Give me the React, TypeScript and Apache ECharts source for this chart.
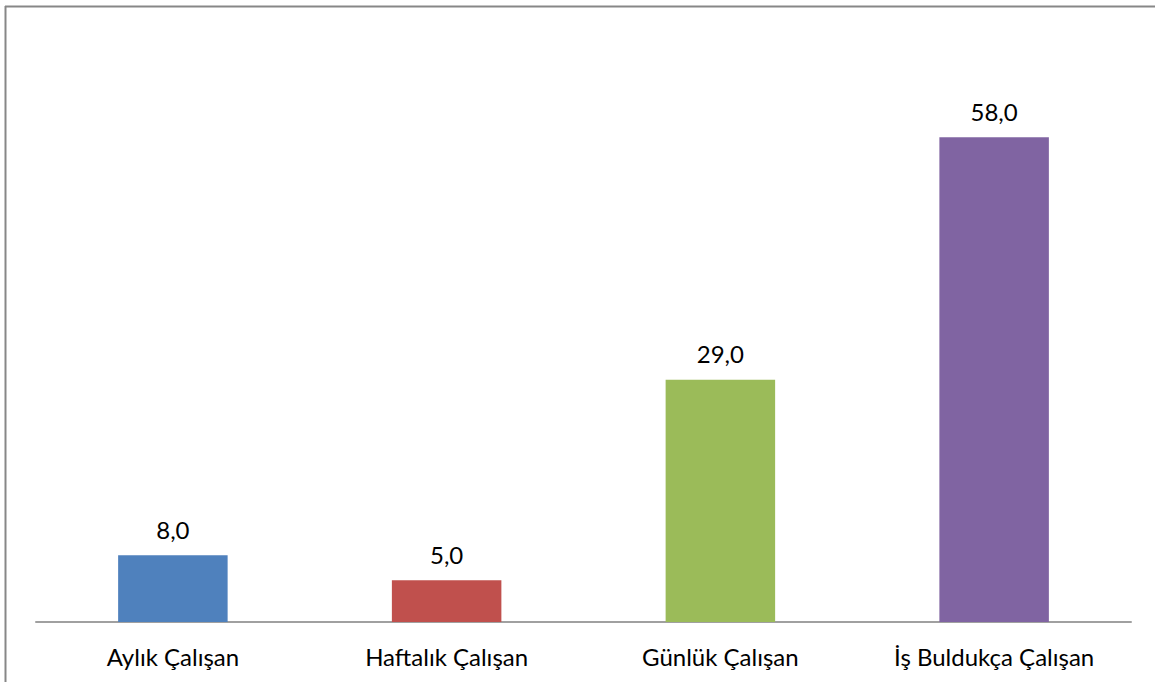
import React, { useEffect, useRef } from "react";
import * as echarts from "echarts";

const categories = ["Aylık Çalışan", "Haftalık Çalışan", "Günlük Çalışan", "İş Buldukça Çalışan"];
const values = [8.0, 5.0, 29.0, 58.0];
const colors = ["#4F81BD", "#C0504D", "#9BBB59", "#8064A2"];

export default function App() {
  const ref = useRef<HTMLDivElement>(null);
  useEffect(() => {
    const chart = echarts.init(ref.current!, null, { renderer: "svg" });
    chart.setOption({
      animation: false,
      backgroundColor: "#ffffff",
      textStyle: { fontFamily: "Lato, 'Open Sans', sans-serif" },
      grid: { left: 36, right: 24, top: 37, bottom: 60 },
      xAxis: {
        type: "category",
        data: categories,
        axisLine: { lineStyle: { color: "#A0A0A0", width: 2 } },
        axisTick: { show: false },
        axisLabel: { color: "#000", fontSize: 24, margin: 22, fontFamily: "Lato, sans-serif" },
      },
      yAxis: {
        type: "value",
        min: 0,
        max: 70,
        show: false,
        splitLine: { show: false },
      },
      series: [
        {
          type: "bar",
          barWidth: "40%",
          data: values.map((v, i) => ({ value: v, itemStyle: { color: colors[i] } })),
          label: {
            show: true,
            position: "top",
            distance: 14,
            color: "#000",
            fontSize: 24,
            fontFamily: "Lato, sans-serif",
            formatter: (p: any) => p.value.toFixed(1).replace(".", ","),
          },
        },
      ],
      graphic: [
        { type: "line", shape: { x1: 5.5, y1: 6, x2: 5.5, y2: 682 }, style: { stroke: "#878787", lineWidth: 2 } },
        { type: "line", shape: { x1: 5, y1: 6.5, x2: 1155, y2: 6.5 }, style: { stroke: "#878787", lineWidth: 2 } },
      ],
    });
    return () => chart.dispose();
  }, []);
  return <div ref={ref} style={{ position: "fixed", left: 0, top: 0, width: 1155, height: 682 }} />;
}
